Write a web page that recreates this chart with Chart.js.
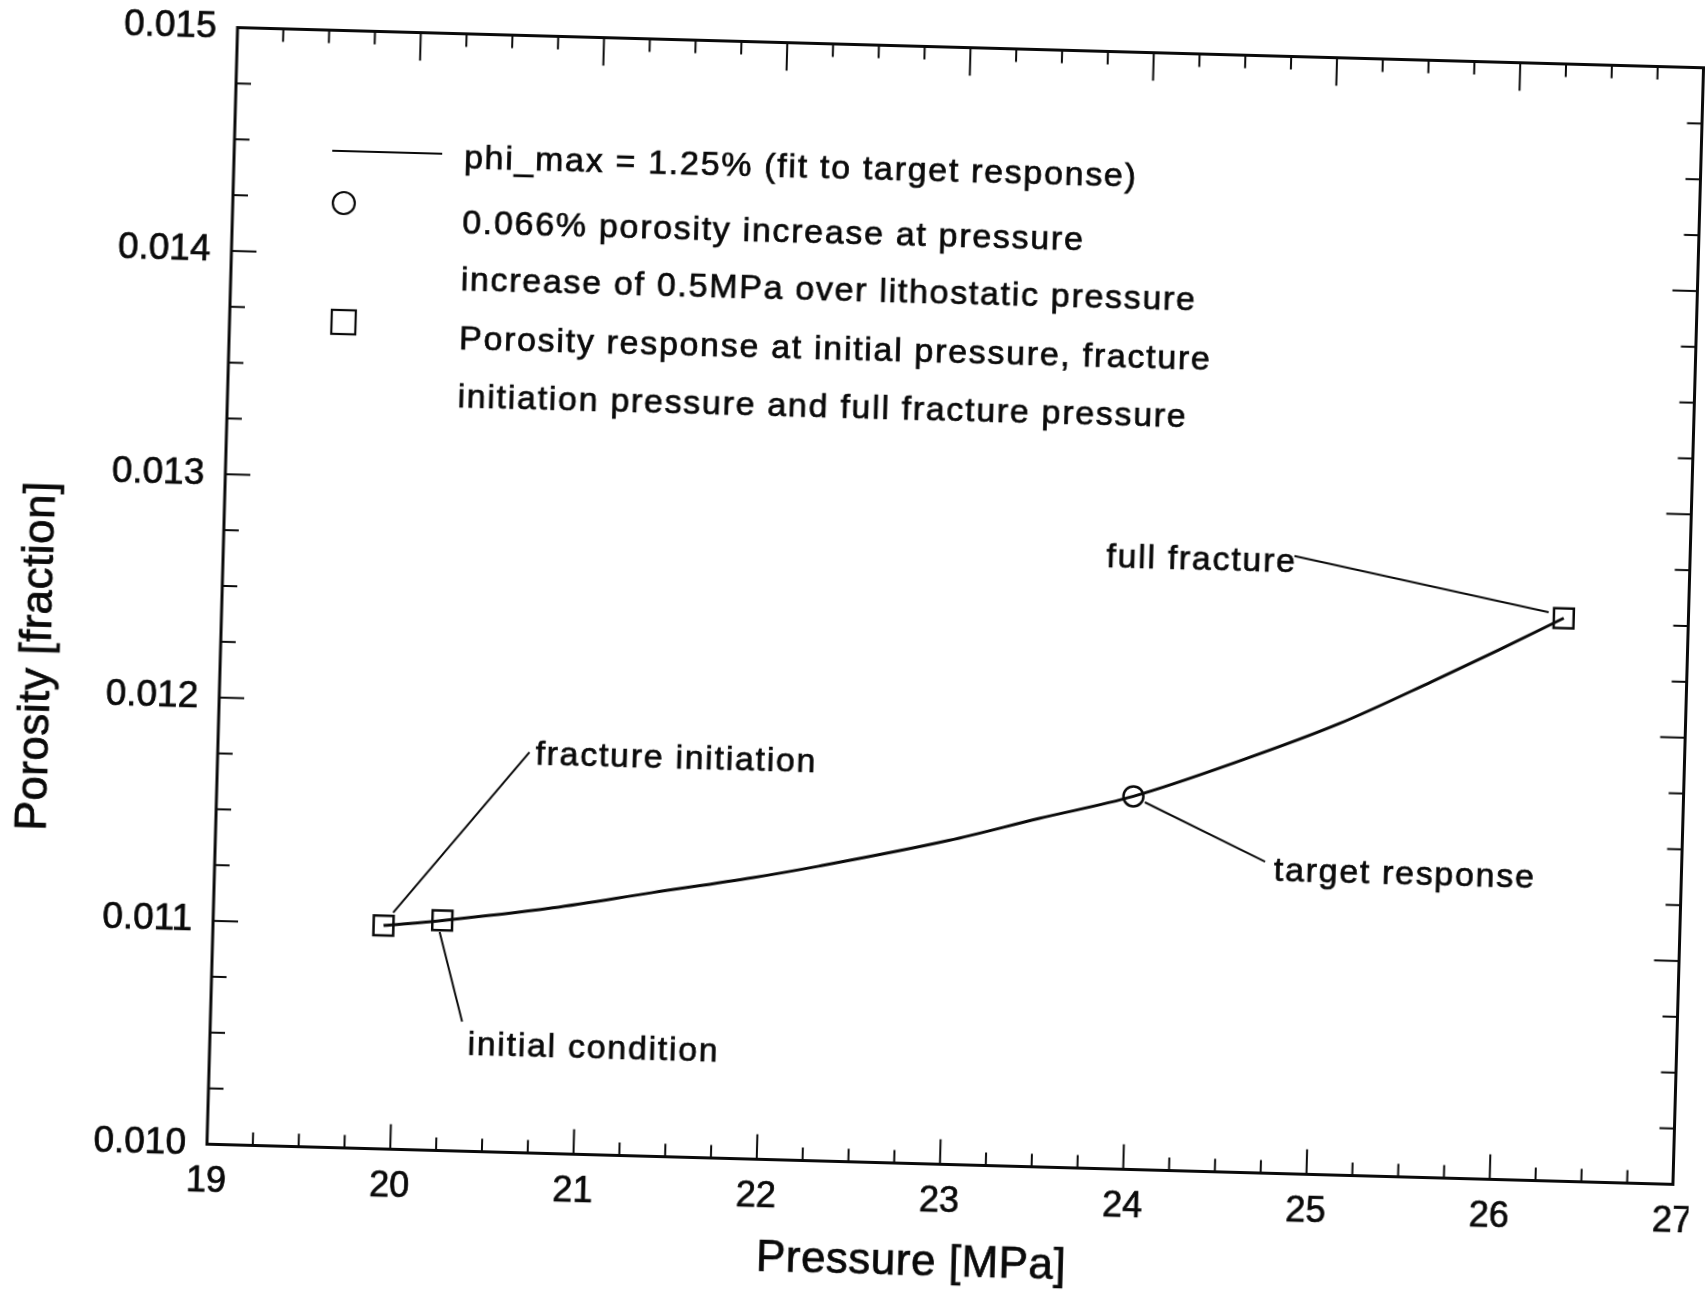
<!DOCTYPE html>
<html>
<head>
<meta charset="utf-8">
<title>Porosity vs Pressure</title>
<script src="https://cdn.jsdelivr.net/npm/chart.js@4.4.1/dist/chart.umd.min.js"></script>
<style>
  html, body { margin: 0; padding: 0; background: #fff; overflow: hidden; }
  #wrap { position: absolute; left: 0; top: 0; width: 1705px; height: 1293px; }
  /* the scanned page is tilted a little, so the whole canvas is turned */
  #myChart { position: absolute; left: 0; top: 0; transform-origin: 956px 606px; transform: rotate(1.57deg); }
</style>
</head>
<body>
<div id="wrap"><canvas id="myChart" width="1705" height="1293"></canvas></div>
<script>
// model curve (phi_max = 1.25%)
var curvePressure = [19.93, 20.25, 20.85, 21.39, 21.94, 22.30, 23.00, 23.49, 24.00, 24.57, 25.11, 25.61, 25.97, 26.32];
var curvePorosity = [0.01100, 0.01103, 0.01110, 0.01118, 0.01126, 0.01132, 0.01145, 0.01156, 0.01167, 0.01184, 0.01202, 0.01222, 0.01237, 0.01252];

// squares: fracture initiation, initial condition, full fracture
var squarePressure = [19.93, 20.25, 26.32];
var squarePorosity = [0.01100, 0.01103, 0.01252];

// circle: target response
var circlePressure = [24.00];
var circlePorosity = [0.01167];

var xTicks = [19, 20, 21, 22, 23, 24, 25, 26, 27];
var yTicks = [0.010, 0.011, 0.012, 0.013, 0.014, 0.015];

var legendLines = [
  "phi_max = 1.25% (fit to target response)",
  "0.066% porosity increase at pressure",
  "increase of 0.5MPa over lithostatic pressure",
  "Porosity response at initial pressure, fracture",
  "initiation pressure and full fracture pressure"
];

var notes = [
  { text: "fracture initiation", at: [20.733, 0.011779], from: [20.700, 0.011793], to: [19.981, 0.011059] },
  { text: "initial condition",   at: [20.406, 0.010472], from: [20.237, 0.010978], to: [20.373, 0.010580] },
  { text: "target response",     at: [24.777, 0.011350], from: [24.063, 0.011645], to: [24.728, 0.011394] },
  { text: "full fracture",       at: [23.817, 0.012733], from: [24.842, 0.012765], to: [26.237, 0.012545] }
];

var FONT = '"Liberation Sans", Arial, Helvetica, sans-serif';
var INK = '#0a0a0a';

function toPoints(xs, ys) {
  return xs.map(function(x, i) { return { x: x, y: ys[i] }; });
}

function drawText(ctx, text, x, y, size, spacing) {
  ctx.save();
  ctx.font = size + 'px ' + FONT;
  ctx.letterSpacing = spacing + 'px';
  ctx.fillStyle = INK;
  ctx.strokeStyle = INK;
  ctx.lineWidth = 0.7;
  ctx.textBaseline = 'middle';
  ctx.textAlign = 'left';
  ctx.fillText(text, x, y);
  ctx.strokeText(text, x, y);
  ctx.restore();
}

function line(ctx, x1, y1, x2, y2) {
  ctx.beginPath();
  ctx.moveTo(x1, y1);
  ctx.lineTo(x2, y2);
  ctx.stroke();
}

var paperPlugin = {
  id: 'paper',
  beforeDraw: function(chart) {
    var ctx = chart.ctx;
    ctx.save();
    ctx.fillStyle = '#fff';
    ctx.fillRect(0, 0, chart.width, chart.height);
    ctx.restore();
  },
  afterDraw: function(chart) {
    var ctx = chart.ctx;
    var a = chart.chartArea;
    var sx = chart.scales.x, sy = chart.scales.y;
    ctx.save();
    ctx.strokeStyle = INK;
    ctx.lineCap = 'butt';

    // frame
    ctx.lineWidth = 3;
    ctx.strokeRect(a.left, a.top, a.right - a.left, a.bottom - a.top);

    // inward ticks on all four sides (4 minor steps per major)
    ctx.lineWidth = 2;
    var xs = xTicks[0], xe = xTicks[xTicks.length - 1];
    for (var i = 1; i < (xe - xs) * 4; i++) {
      var px = sx.getPixelForValue(xs + i * 0.25);
      var major = (i % 4 === 0);
      line(ctx, px, a.bottom, px, a.bottom - (major ? 25 : 13));
      line(ctx, px, a.top, px, a.top + (major ? 28 : 13));
    }
    var ys = yTicks[0], ye = yTicks[yTicks.length - 1];
    var nY = Math.round((ye - ys) / 0.00025);
    for (var j = 1; j < nY; j++) {
      var py = sy.getPixelForValue(ys + j * 0.00025);
      var ylen = (j % 4 === 0) ? 25 : 15;
      line(ctx, a.left, py, a.left + ylen, py);
      line(ctx, a.right, py, a.right - ylen, py);
    }

    // axis titles
    ctx.save();
    ctx.font = '44px ' + FONT;
    ctx.letterSpacing = '0.5px';
    ctx.fillStyle = INK;
    ctx.strokeStyle = INK;
    ctx.lineWidth = 0.7;
    ctx.textAlign = 'center';
    ctx.textBaseline = 'middle';
    ctx.fillText('Pressure [MPa]', 929, 1264);
    ctx.strokeText('Pressure [MPa]', 929, 1264);
    ctx.translate(40, 681);
    ctx.rotate(-Math.PI / 2);
    ctx.fillText('Porosity [fraction]', 0, 0);
    ctx.strokeText('Porosity [fraction]', 0, 0);
    ctx.restore();

    // legend
    var lx = a.left + 230;
    ctx.lineWidth = 2.2;
    line(ctx, a.left + 98, 168, a.left + 208, 168);
    ctx.beginPath();
    ctx.arc(a.left + 111, 220, 11, 0, Math.PI * 2);
    ctx.stroke();
    ctx.strokeRect(a.left + 102, 327, 24, 24);
    var ly = [173, 238, 295, 354, 412];
    legendLines.forEach(function(t, k) { drawText(ctx, t, lx, ly[k], 34, 1.7); });

    // labels with leader lines
    ctx.lineWidth = 2;
    notes.forEach(function(n) {
      line(ctx, sx.getPixelForValue(n.from[0]), sy.getPixelForValue(n.from[1]),
                sx.getPixelForValue(n.to[0]), sy.getPixelForValue(n.to[1]));
      drawText(ctx, n.text, sx.getPixelForValue(n.at[0]), sy.getPixelForValue(n.at[1]), 34, 1.7);
    });
    ctx.restore();
  }
};

var ctx = document.getElementById('myChart').getContext('2d');
var chart = new Chart(ctx, {
  type: 'scatter',
  data: {
    datasets: [{
      label: 'phi_max = 1.25% (fit to target response)',
      data: toPoints(curvePressure, curvePorosity),
      showLine: true,
      cubicInterpolationMode: 'monotone',
      borderColor: INK,
      borderWidth: 3,
      pointRadius: 0,
      fill: false
    }, {
      label: 'Porosity response',
      data: toPoints(squarePressure, squarePorosity),
      showLine: false,
      pointStyle: 'rect',
      pointRadius: 14,
      borderColor: INK,
      borderWidth: 2.5,
      backgroundColor: 'rgba(0,0,0,0)'
    }, {
      label: '0.066% porosity increase',
      data: toPoints(circlePressure, circlePorosity),
      showLine: false,
      pointStyle: 'circle',
      pointRadius: 10,
      borderColor: INK,
      borderWidth: 2.5,
      backgroundColor: 'rgba(0,0,0,0)'
    }]
  },
  options: {
    responsive: false,
    animation: false,
    layout: { padding: { left: 0, top: 47.5, right: 15, bottom: 0 } },
    plugins: {
      legend: { display: false },
      tooltip: { enabled: false }
    },
    scales: {
      x: {
        type: 'linear',
        min: xTicks[0],
        max: xTicks[xTicks.length - 1],
        afterBuildTicks: function(scale) { scale.ticks = xTicks.map(function(v) { return { value: v }; }); },
        afterFit: function(scale) { scale.height = 128.5; scale.paddingLeft = 0; scale.paddingRight = 0; },
        grid: { display: false, drawTicks: false },
        border: { display: false },
        ticks: {
          padding: 16,
          maxRotation: 0,
          color: INK,
          textStrokeColor: INK,
          textStrokeWidth: 0.7,
          font: { family: FONT, size: 36 },
          callback: function(v) { return String(v); }
        }
      },
      y: {
        type: 'linear',
        min: yTicks[0],
        max: yTicks[yTicks.length - 1],
        afterBuildTicks: function(scale) { scale.ticks = yTicks.map(function(v) { return { value: v }; }); },
        afterFit: function(scale) { scale.width = 222; scale.paddingTop = 0; scale.paddingBottom = 0; },
        grid: { display: false, drawTicks: false },
        border: { display: false },
        ticks: {
          padding: 21,
          color: INK,
          textStrokeColor: INK,
          textStrokeWidth: 0.7,
          font: { family: FONT, size: 37 },
          callback: function(v) { return Number(v).toFixed(3); }
        }
      }
    }
  },
  plugins: [paperPlugin]
});
</script>
</body>
</html>
